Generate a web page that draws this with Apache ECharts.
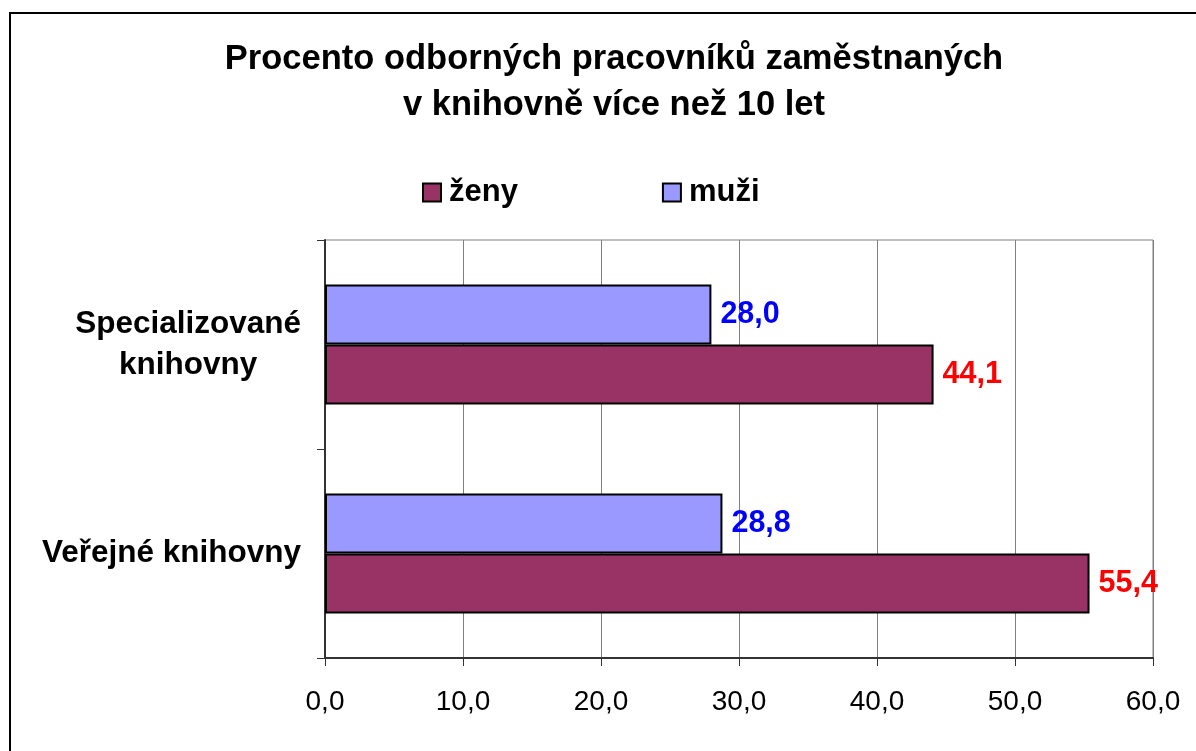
<!DOCTYPE html>
<html lang="cs">
<head>
    <meta charset="UTF-8">
    <title>ECharts</title>
    <script src="https://cdn.jsdelivr.net/npm/echarts@6/dist/echarts.min.js"></script>
    <style type="text/css">
        *{margin: 0;padding: 0;border: none}
        html,body{width: 100%;height: 100%;overflow: hidden;background: #fff}
        #main{width: 1196px;height: 751px}
    </style>
</head>
<body>
<div id="main"></div>
<script type="text/javascript">
    // data
    var categories = ['Veřejné knihovny', 'Specializované\nknihovny'];
    var zeny = [55.4, 44.1];
    var muzi = [28.8, 28.0];
    var seriesNames = ['ženy', 'muži'];
    var xMin = 0, xMax = 60, xStep = 10;

    var font = '"Liberation Sans", Arial, sans-serif';
    function fmt(v) { return Number(v).toFixed(1).replace('.', ','); }

    var myChart = echarts.init(document.getElementById('main'));
    var option = {
        backgroundColor: '#fff',
        animation: false,
        title: {
            text: 'Procento odborných pracovníků zaměstnaných\nv knihovně více než 10 let',
            left: 609,
            textAlign: 'center',
            top: 31,
            textStyle: {
                fontFamily: font,
                fontWeight: 'bold',
                fontSize: 34.5,
                lineHeight: 46,
                color: '#000'
            }
        },
        graphic: [{
            type: 'rect',
            shape: {x: 10, y: 13, width: 1220, height: 800},
            style: {fill: null, stroke: '#000', lineWidth: 2},
            silent: true
        }],
        legend: {
            data: seriesNames,
            left: 417,
            top: 172,
            itemGap: 144,
            icon: 'rect',
            itemWidth: 18,
            itemHeight: 18,
            textStyle: {
                fontFamily: font,
                fontWeight: 'bold',
                fontSize: 31,
                color: '#000',
                padding: [0, 0, 0, 3]
            }
        },
        grid: {
            left: 325,
            right: 43,
            top: 240,
            bottom: 93,
            show: true,
            borderColor: '#808080',
            borderWidth: 1
        },
        xAxis: {
            type: 'value',
            min: xMin,
            max: xMax,
            interval: xStep,
            axisLine: {show: true, lineStyle: {color: '#333', width: 2}},
            axisTick: {show: true, length: 8, lineStyle: {color: '#333', width: 1}},
            splitLine: {show: true, lineStyle: {color: '#808080', width: 1}},
            axisLabel: {
                margin: 30,
                fontFamily: font,
                fontSize: 28,
                color: '#000',
                formatter: fmt
            }
        },
        yAxis: {
            type: 'category',
            data: categories,
            axisLine: {show: true, lineStyle: {color: '#333', width: 2}},
            axisTick: {show: true, length: 8, lineStyle: {color: '#333', width: 1}},
            splitLine: {show: false},
            axisLabel: {
                margin: 24,
                formatter: function (v) {
                    return v.split('\n').map(function (s) { return '{a|' + s + '}'; }).join('\n');
                },
                rich: {
                    a: {
                        fontFamily: font,
                        fontWeight: 'bold',
                        fontSize: 31.5,
                        lineHeight: 41,
                        color: '#000',
                        align: 'center'
                    }
                }
            }
        },
        series: [
            {
                name: seriesNames[1],
                type: 'bar',
                data: muzi,
                barWidth: 60,
                barGap: '0%',
                itemStyle: {color: '#9999ff', borderColor: '#000', borderWidth: 2},
                label: {
                    show: true,
                    position: 'right',
                    distance: 9,
                    formatter: function (p) { return fmt(p.value); },
                    fontFamily: font,
                    fontWeight: 'bold',
                    fontSize: 30.5,
                    color: '#0000ff'
                }
            },
            {
                name: seriesNames[0],
                type: 'bar',
                data: zeny,
                barWidth: 60,
                barGap: '0%',
                itemStyle: {color: '#993366', borderColor: '#000', borderWidth: 2},
                label: {
                    show: true,
                    position: 'right',
                    distance: 9,
                    formatter: function (p) { return fmt(p.value); },
                    fontFamily: font,
                    fontWeight: 'bold',
                    fontSize: 30.5,
                    color: '#ff0000'
                }
            }
        ]
    };
    myChart.setOption(option);
</script>
</body>
</html>
